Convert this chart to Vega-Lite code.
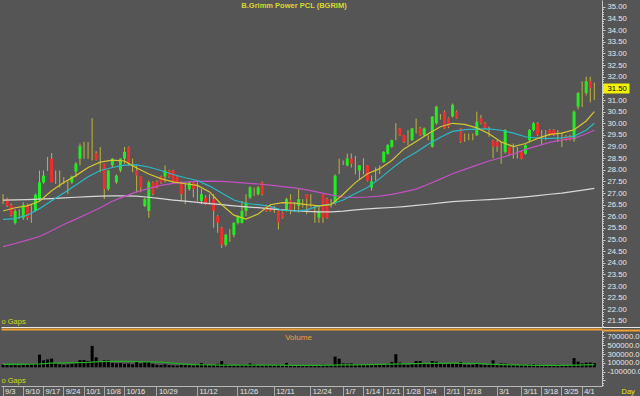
{
"$schema": "https://vega.github.io/schema/vega-lite/v6.json",
"background": "#555555",
"padding": 0,
"bounds": "flush",
"spacing": 3,
"config": {"view": {"stroke": null}, "font": "Liberation Sans", "axis": {"labelFont": "Liberation Sans", "titleFont": "Liberation Sans"}, "title": {"font": "Liberation Sans"}},
"datasets": {
"k": [
{"d":"9/3","o":26.7,"h":26.95,"l":26.52,"c":26.7,"v":60000},
{"d":"9/4","o":26.74,"h":26.8,"l":26.4,"c":26.45,"v":55000},
{"d":"9/5","o":26.48,"h":26.55,"l":26.0,"c":26.05,"v":50000},
{"d":"9/6","o":25.72,"h":26.3,"l":25.65,"c":26.23,"v":60000},
{"d":"9/7","o":26.1,"h":26.3,"l":25.9,"c":26.1,"v":45000},
{"d":"9/10","o":25.94,"h":26.6,"l":25.85,"c":26.48,"v":55000},
{"d":"9/11","o":26.48,"h":26.55,"l":25.85,"c":25.94,"v":60000},
{"d":"9/12","o":26.2,"h":26.52,"l":25.72,"c":26.2,"v":70000},
{"d":"9/13","o":26.23,"h":26.98,"l":26.2,"c":26.93,"v":75000},
{"d":"9/14","o":26.74,"h":27.97,"l":26.66,"c":27.46,"v":290000},
{"d":"9/17","o":27.46,"h":27.97,"l":27.4,"c":27.75,"v":160000},
{"d":"9/18","o":28.2,"h":28.55,"l":27.95,"c":28.2,"v":180000},
{"d":"9/19","o":28.48,"h":28.72,"l":27.46,"c":27.46,"v":200000},
{"d":"9/20","o":27.6,"h":27.97,"l":27.39,"c":27.6,"v":90000},
{"d":"9/21","o":27.55,"h":27.97,"l":27.24,"c":27.55,"v":70000},
{"d":"9/24","o":27.55,"h":27.68,"l":27.39,"c":27.55,"v":60000},
{"d":"9/25","o":27.3,"h":27.54,"l":26.96,"c":27.3,"v":65000},
{"d":"9/26","o":27.46,"h":27.75,"l":27.4,"c":27.71,"v":80000},
{"d":"9/27","o":27.93,"h":28.33,"l":27.68,"c":28.26,"v":90000},
{"d":"9/28","o":28.48,"h":29.13,"l":28.19,"c":29.01,"v":165000},
{"d":"10/1","o":28.9,"h":29.2,"l":28.48,"c":28.9,"v":165000},
{"d":"10/2","o":28.9,"h":29.2,"l":28.48,"c":28.9,"v":145000},
{"d":"10/3","o":28.8,"h":30.22,"l":28.4,"c":28.8,"v":490000},
{"d":"10/4","o":28.72,"h":28.8,"l":28.4,"c":28.43,"v":230000},
{"d":"10/5","o":28.5,"h":28.98,"l":27.9,"c":28.5,"v":145000},
{"d":"10/8","o":28.26,"h":28.26,"l":26.74,"c":27.17,"v":160000},
{"d":"10/9","o":27.17,"h":28.0,"l":27.1,"c":27.97,"v":160000},
{"d":"10/10","o":28.19,"h":28.5,"l":28.1,"c":28.48,"v":100000},
{"d":"10/11","o":27.46,"h":27.8,"l":27.4,"c":27.75,"v":90000},
{"d":"10/12","o":27.97,"h":28.5,"l":27.9,"c":28.48,"v":95000},
{"d":"10/16","o":28.48,"h":28.98,"l":28.26,"c":28.77,"v":80000},
{"d":"10/17","o":28.98,"h":29.0,"l":28.2,"c":28.26,"v":85000},
{"d":"10/18","o":28.1,"h":28.48,"l":27.9,"c":28.1,"v":70000},
{"d":"10/19","o":27.97,"h":28.19,"l":27.03,"c":27.75,"v":130000},
{"d":"10/22","o":27.71,"h":27.71,"l":27.03,"c":27.24,"v":90000},
{"d":"10/24","o":26.45,"h":26.8,"l":26.4,"c":26.74,"v":120000},
{"d":"10/25","o":26.23,"h":27.54,"l":25.94,"c":27.46,"v":120000},
{"d":"10/26","o":27.46,"h":27.5,"l":26.9,"c":26.96,"v":80000},
{"d":"10/29","o":27.49,"h":27.55,"l":27.2,"c":27.24,"v":60000},
{"d":"10/30","o":27.71,"h":27.75,"l":27.4,"c":27.46,"v":55000},
{"d":"10/31","o":27.71,"h":28.19,"l":27.46,"c":27.97,"v":70000},
{"d":"11/1","o":27.97,"h":28.0,"l":27.65,"c":27.71,"v":50000},
{"d":"11/2","o":27.97,"h":28.0,"l":27.4,"c":27.46,"v":45000},
{"d":"11/5","o":27.68,"h":27.72,"l":27.42,"c":27.46,"v":40000},
{"d":"11/6","o":27.46,"h":27.5,"l":26.66,"c":26.96,"v":55000},
{"d":"11/7","o":27.1,"h":27.46,"l":26.52,"c":27.1,"v":50000},
{"d":"11/8","o":27.17,"h":27.5,"l":27.1,"c":27.46,"v":45000},
{"d":"11/9","o":27.46,"h":27.5,"l":26.81,"c":27.17,"v":40000},
{"d":"11/12","o":27.0,"h":27.46,"l":26.66,"c":27.0,"v":55000},
{"d":"11/13","o":26.66,"h":27.17,"l":26.52,"c":26.955,"v":95000},
{"d":"11/14","o":26.81,"h":26.9,"l":26.5,"c":26.52,"v":70000},
{"d":"11/15","o":26.7,"h":26.95,"l":26.52,"c":26.7,"v":50000},
{"d":"11/16","o":26.74,"h":26.95,"l":25.51,"c":26.23,"v":60000},
{"d":"11/19","o":26.01,"h":26.05,"l":25.29,"c":25.72,"v":80000},
{"d":"11/20","o":25.51,"h":25.55,"l":24.64,"c":24.78,"v":145000},
{"d":"11/21","o":24.78,"h":25.25,"l":24.7,"c":25.2,"v":70000},
{"d":"11/22","o":25.2,"h":25.45,"l":24.9,"c":25.2,"v":50000},
{"d":"11/23","o":25.2,"h":25.75,"l":25.1,"c":25.72,"v":45000},
{"d":"11/26","o":25.72,"h":26.05,"l":25.65,"c":26.0,"v":50000},
{"d":"11/27","o":25.72,"h":26.66,"l":25.7,"c":26.23,"v":60000},
{"d":"11/28","o":26.23,"h":26.95,"l":26.0,"c":26.59,"v":55000},
{"d":"11/29","o":26.81,"h":27.3,"l":26.75,"c":27.24,"v":90000},
{"d":"11/30","o":27.0,"h":27.24,"l":26.88,"c":27.0,"v":65000},
{"d":"12/3","o":26.95,"h":27.3,"l":26.9,"c":27.24,"v":50000},
{"d":"12/4","o":27.46,"h":27.5,"l":26.9,"c":26.95,"v":45000},
{"d":"12/6","o":26.45,"h":26.5,"l":26.2,"c":26.23,"v":55000},
{"d":"12/7","o":26.45,"h":26.5,"l":26.2,"c":26.23,"v":50000},
{"d":"12/11","o":26.3,"h":26.45,"l":26.15,"c":26.3,"v":45000},
{"d":"12/12","o":26.23,"h":26.25,"l":25.43,"c":25.72,"v":60000},
{"d":"12/13","o":26.16,"h":26.2,"l":25.9,"c":25.94,"v":50000},
{"d":"12/14","o":26.23,"h":26.8,"l":26.2,"c":26.74,"v":100000},
{"d":"12/17","o":26.69,"h":26.95,"l":26.09,"c":26.23,"v":45000},
{"d":"12/18","o":26.4,"h":26.6,"l":26.2,"c":26.4,"v":40000},
{"d":"12/19","o":26.45,"h":27.17,"l":26.16,"c":26.74,"v":50000},
{"d":"12/20","o":26.55,"h":26.74,"l":26.38,"c":26.55,"v":45000},
{"d":"12/21","o":26.95,"h":26.95,"l":26.09,"c":26.74,"v":55000},
{"d":"12/24","o":26.7,"h":26.95,"l":26.38,"c":26.7,"v":40000},
{"d":"12/25","o":26.0,"h":26.45,"l":25.72,"c":26.0,"v":35000},
{"d":"12/26","o":25.94,"h":26.45,"l":25.72,"c":26.23,"v":50000},
{"d":"12/27","o":26.95,"h":26.95,"l":25.72,"c":25.94,"v":60000},
{"d":"12/28","o":26.74,"h":26.8,"l":25.9,"c":25.94,"v":55000},
{"d":"1/2","o":26.6,"h":26.74,"l":26.38,"c":26.6,"v":50000},
{"d":"1/3","o":26.59,"h":27.8,"l":26.5,"c":27.75,"v":246000},
{"d":"1/4","o":28.2,"h":28.48,"l":27.82,"c":28.2,"v":196000},
{"d":"1/7","o":28.3,"h":28.4,"l":28.2,"c":28.3,"v":90000},
{"d":"1/8","o":28.19,"h":28.7,"l":28.15,"c":28.48,"v":85000},
{"d":"1/9","o":28.48,"h":28.7,"l":28.1,"c":28.26,"v":90000},
{"d":"1/10","o":28.3,"h":28.6,"l":27.8,"c":28.3,"v":60000},
{"d":"1/11","o":27.97,"h":28.2,"l":27.6,"c":28.19,"v":65000},
{"d":"1/14","o":28.1,"h":28.5,"l":27.8,"c":28.1,"v":55000},
{"d":"1/15","o":28.19,"h":28.2,"l":27.5,"c":27.53,"v":60000},
{"d":"1/16","o":27.24,"h":27.75,"l":27.1,"c":27.5,"v":50000},
{"d":"1/17","o":27.8,"h":28.1,"l":27.53,"c":27.8,"v":55000},
{"d":"1/18","o":28.0,"h":28.19,"l":27.82,"c":28.0,"v":60000},
{"d":"1/21","o":28.33,"h":28.8,"l":28.3,"c":28.77,"v":70000},
{"d":"1/22","o":28.69,"h":29.1,"l":28.65,"c":29.06,"v":80000},
{"d":"1/23","o":28.99,"h":29.3,"l":28.95,"c":29.27,"v":123000},
{"d":"1/24","o":29.6,"h":30.0,"l":29.27,"c":29.6,"v":300000},
{"d":"1/25","o":29.78,"h":29.8,"l":29.45,"c":29.49,"v":109000},
{"d":"1/28","o":29.49,"h":29.5,"l":29.15,"c":29.2,"v":70000},
{"d":"1/29","o":29.4,"h":29.7,"l":29.06,"c":29.4,"v":60000},
{"d":"1/30","o":29.27,"h":29.8,"l":29.25,"c":29.78,"v":80000},
{"d":"1/31","o":29.9,"h":30.2,"l":29.56,"c":29.9,"v":145000},
{"d":"2/1","o":29.78,"h":29.85,"l":29.45,"c":29.49,"v":145000},
{"d":"2/4","o":29.49,"h":29.82,"l":29.45,"c":29.78,"v":90000},
{"d":"2/5","o":29.4,"h":29.49,"l":29.27,"c":29.4,"v":70000},
{"d":"2/6","o":28.99,"h":30.3,"l":28.95,"c":30.29,"v":145000},
{"d":"2/7","o":30.0,"h":30.75,"l":29.95,"c":30.72,"v":130000},
{"d":"2/8","o":30.3,"h":30.4,"l":30.15,"c":30.3,"v":80000},
{"d":"2/11","o":30.5,"h":30.55,"l":29.75,"c":29.78,"v":70000},
{"d":"2/12","o":30.22,"h":30.25,"l":29.8,"c":29.85,"v":75000},
{"d":"2/13","o":30.29,"h":30.85,"l":30.25,"c":30.8,"v":90000},
{"d":"2/14","o":30.5,"h":30.55,"l":30.2,"c":30.22,"v":80000},
{"d":"2/15","o":29.78,"h":29.8,"l":29.15,"c":29.2,"v":123000},
{"d":"2/18","o":29.4,"h":29.56,"l":29.2,"c":29.4,"v":60000},
{"d":"2/20","o":29.4,"h":29.56,"l":29.27,"c":29.4,"v":55000},
{"d":"2/21","o":29.4,"h":29.56,"l":29.27,"c":29.4,"v":60000},
{"d":"2/22","o":29.49,"h":30.5,"l":29.45,"c":30.07,"v":100000},
{"d":"2/25","o":30.22,"h":30.36,"l":29.95,"c":30.0,"v":65000},
{"d":"2/26","o":30.0,"h":30.05,"l":29.75,"c":29.78,"v":55000},
{"d":"2/27","o":29.6,"h":29.85,"l":29.42,"c":29.6,"v":60000},
{"d":"2/28","o":29.27,"h":29.3,"l":28.5,"c":28.99,"v":160000},
{"d":"3/1","o":29.2,"h":29.27,"l":28.77,"c":29.0,"v":60000},
{"d":"3/4","o":28.7,"h":29.2,"l":28.26,"c":28.7,"v":90000},
{"d":"3/5","o":28.77,"h":29.75,"l":28.7,"c":29.71,"v":85000},
{"d":"3/6","o":28.98,"h":29.0,"l":28.65,"c":28.69,"v":70000},
{"d":"3/7","o":28.7,"h":29.13,"l":28.48,"c":28.7,"v":55000},
{"d":"3/8","o":28.7,"h":28.98,"l":28.48,"c":28.7,"v":50000},
{"d":"3/11","o":28.77,"h":28.8,"l":28.45,"c":28.48,"v":60000},
{"d":"3/12","o":28.69,"h":29.1,"l":28.65,"c":29.06,"v":55000},
{"d":"3/13","o":29.27,"h":29.75,"l":29.2,"c":29.71,"v":65000},
{"d":"3/14","o":29.71,"h":30.05,"l":29.65,"c":30.0,"v":70000},
{"d":"3/15","o":30.0,"h":30.05,"l":29.45,"c":29.49,"v":60000},
{"d":"3/18","o":29.5,"h":29.71,"l":29.06,"c":29.5,"v":55000},
{"d":"3/19","o":29.6,"h":29.71,"l":29.27,"c":29.6,"v":50000},
{"d":"3/20","o":29.71,"h":29.75,"l":29.45,"c":29.49,"v":45000},
{"d":"3/21","o":29.71,"h":29.75,"l":29.45,"c":29.49,"v":55000},
{"d":"3/22","o":29.5,"h":29.71,"l":29.2,"c":29.5,"v":60000},
{"d":"3/25","o":29.4,"h":29.6,"l":28.98,"c":29.4,"v":50000},
{"d":"3/26","o":29.45,"h":29.5,"l":29.25,"c":29.27,"v":45000},
{"d":"3/27","o":29.45,"h":29.5,"l":29.25,"c":29.27,"v":50000},
{"d":"3/28","o":29.3,"h":30.55,"l":29.2,"c":30.5,"v":210000},
{"d":"3/29","o":30.72,"h":31.35,"l":30.6,"c":31.3,"v":130000},
{"d":"4/1","o":31.3,"h":31.8,"l":30.7,"c":31.3,"v":90000},
{"d":"4/2","o":31.3,"h":32.0,"l":31.2,"c":31.81,"v":109000},
{"d":"4/3","o":31.81,"h":32.0,"l":30.9,"c":31.52,"v":109000},
{"d":"4/4","o":31.5,"h":31.75,"l":31.0,"c":31.5,"v":100000}
],
"ma": [
{"d":"9/3","y":26.23,"cy":25.87,"m":24.7,"w":26.7,"vm":70000},
{"d":"9/6","y":26.37,"cy":25.9,"m":24.83,"w":26.71,"vm":70000},
{"d":"9/11","y":26.45,"cy":26.05,"m":24.98,"w":26.72,"vm":72000},
{"d":"9/14","y":26.65,"cy":26.33,"m":25.13,"w":26.74,"vm":80000},
{"d":"9/19","y":27.1,"cy":26.67,"m":25.38,"w":26.76,"vm":95000},
{"d":"9/24","y":27.45,"cy":27.0,"m":25.65,"w":26.79,"vm":100000},
{"d":"9/27","y":27.75,"cy":27.35,"m":25.88,"w":26.82,"vm":105000},
{"d":"10/2","y":28.1,"cy":27.7,"m":26.12,"w":26.85,"vm":112000},
{"d":"10/5","y":28.33,"cy":27.97,"m":26.37,"w":26.87,"vm":128000},
{"d":"10/10","y":28.42,"cy":28.1,"m":26.65,"w":26.88,"vm":136000},
{"d":"10/16","y":28.38,"cy":28.2,"m":26.86,"w":26.88,"vm":135000},
{"d":"10/19","y":28.08,"cy":28.21,"m":27.05,"w":26.87,"vm":128000},
{"d":"10/25","y":27.82,"cy":28.12,"m":27.2,"w":26.82,"vm":125000},
{"d":"10/30","y":27.62,"cy":27.97,"m":27.33,"w":26.76,"vm":120000},
{"d":"11/2","y":27.48,"cy":27.8,"m":27.42,"w":26.7,"vm":95000},
{"d":"11/7","y":27.4,"cy":27.66,"m":27.47,"w":26.65,"vm":75000},
{"d":"11/12","y":27.33,"cy":27.54,"m":27.5,"w":26.6,"vm":60000},
{"d":"11/15","y":27.05,"cy":27.3,"m":27.51,"w":26.55,"vm":55000},
{"d":"11/20","y":26.5,"cy":27.0,"m":27.5,"w":26.5,"vm":52000},
{"d":"11/23","y":26.05,"cy":26.7,"m":27.47,"w":26.45,"vm":50000},
{"d":"11/28","y":25.88,"cy":26.55,"m":27.43,"w":26.41,"vm":50000},
{"d":"12/3","y":26.1,"cy":26.5,"m":27.39,"w":26.37,"vm":50000},
{"d":"12/7","y":26.5,"cy":26.43,"m":27.34,"w":26.32,"vm":50000},
{"d":"12/13","y":26.59,"cy":26.26,"m":27.28,"w":26.28,"vm":48000},
{"d":"12/18","y":26.57,"cy":26.22,"m":27.22,"w":26.24,"vm":46000},
{"d":"12/21","y":26.5,"cy":26.28,"m":27.14,"w":26.21,"vm":45000},
{"d":"12/26","y":26.45,"cy":26.45,"m":27.03,"w":26.19,"vm":45000},
{"d":"1/2","y":26.5,"cy":26.53,"m":26.92,"w":26.19,"vm":48000},
{"d":"1/7","y":26.95,"cy":26.7,"m":26.83,"w":26.22,"vm":55000},
{"d":"1/10","y":27.45,"cy":26.98,"m":26.81,"w":26.28,"vm":58000},
{"d":"1/15","y":27.83,"cy":27.24,"m":26.83,"w":26.32,"vm":60000},
{"d":"1/18","y":28.05,"cy":27.62,"m":26.87,"w":26.35,"vm":65000},
{"d":"1/23","y":28.4,"cy":28.05,"m":26.94,"w":26.38,"vm":72000},
{"d":"1/28","y":28.9,"cy":28.45,"m":27.05,"w":26.42,"vm":80000},
{"d":"1/31","y":29.22,"cy":28.75,"m":27.17,"w":26.47,"vm":85000},
{"d":"2/5","y":29.55,"cy":29.1,"m":27.38,"w":26.52,"vm":90000},
{"d":"2/8","y":29.85,"cy":29.4,"m":27.6,"w":26.58,"vm":92000},
{"d":"2/13","y":30.0,"cy":29.65,"m":27.83,"w":26.63,"vm":94000},
{"d":"2/18","y":29.95,"cy":29.73,"m":28.02,"w":26.66,"vm":92000},
{"d":"2/22","y":29.8,"cy":29.75,"m":28.2,"w":26.69,"vm":88000},
{"d":"2/27","y":29.55,"cy":29.76,"m":28.38,"w":26.72,"vm":72000},
{"d":"3/4","y":29.2,"cy":29.7,"m":28.52,"w":26.75,"vm":62000},
{"d":"3/7","y":29.0,"cy":29.58,"m":28.68,"w":26.79,"vm":55000},
{"d":"3/12","y":29.13,"cy":29.42,"m":28.88,"w":26.84,"vm":50000},
{"d":"3/15","y":29.35,"cy":29.36,"m":29.03,"w":26.89,"vm":46000},
{"d":"3/20","y":29.52,"cy":29.35,"m":29.18,"w":26.95,"vm":45000},
{"d":"3/25","y":29.58,"cy":29.37,"m":29.28,"w":27.0,"vm":45000},
{"d":"3/28","y":29.72,"cy":29.45,"m":29.35,"w":27.07,"vm":50000},
{"d":"4/2","y":30.1,"cy":29.7,"m":29.55,"w":27.15,"vm":58000},
{"d":"4/4","y":30.5,"cy":30.0,"m":29.7,"w":27.2,"vm":60000}
]
},
"vconcat": [
{
"width": 601,
"height": 327,
"title": {"text": "B.Grimm Power PCL (BGRIM)", "color": "#D8D830", "fontSize": 7.5, "fontWeight": "bold", "anchor": "middle", "frame": "group", "offset": -15, "baseline": "alphabetic", "dx": -7.5},
"resolve": {"axis": {"y": "independent"}},
"encoding": {
"x": {"field": "d", "type": "ordinal", "sort": null,
"scale": {"type": "band", "paddingInner": 0, "paddingOuter": 0.7, "align": 0, "domain": ["9/3","9/4","9/5","9/6","9/7","9/10","9/11","9/12","9/13","9/14","9/17","9/18","9/19","9/20","9/21","9/24","9/25","9/26","9/27","9/28","10/1","10/2","10/3","10/4","10/5","10/8","10/9","10/10","10/11","10/12","10/16","10/17","10/18","10/19","10/22","10/24","10/25","10/26","10/29","10/30","10/31","11/1","11/2","11/5","11/6","11/7","11/8","11/9","11/12","11/13","11/14","11/15","11/16","11/19","11/20","11/21","11/22","11/23","11/26","11/27","11/28","11/29","11/30","12/3","12/4","12/6","12/7","12/11","12/12","12/13","12/14","12/17","12/18","12/19","12/20","12/21","12/24","12/25","12/26","12/27","12/28","1/2","1/3","1/4","1/7","1/8","1/9","1/10","1/11","1/14","1/15","1/16","1/17","1/18","1/21","1/22","1/23","1/24","1/25","1/28","1/29","1/30","1/31","2/1","2/4","2/5","2/6","2/7","2/8","2/11","2/12","2/13","2/14","2/15","2/18","2/20","2/21","2/22","2/25","2/26","2/27","2/28","3/1","3/4","3/5","3/6","3/7","3/8","3/11","3/12","3/13","3/14","3/15","3/18","3/19","3/20","3/21","3/22","3/25","3/26","3/27","3/28","3/29","4/1","4/2","4/3","4/4"]},
"axis": {"orient": "bottom", "ticks": false, "labels": false, "grid": false, "domainColor": "#E6E6E6", "domainWidth": 1, "title": "o Gaps", "titleX": 0, "titleY": -4, "titleAlign": "left", "titleAnchor": "start", "titleBaseline": "alphabetic", "titleColor": "#D8D820", "titleFontSize": 7.5, "titleFontWeight": "normal"}}
},
"layer": [
{"data": {"name": "k"}, "mark": {"type": "rule", "color": "#C4B43C", "strokeWidth": 1},
"encoding": {
"y": {"field": "l", "type": "quantitative", "scale": {"domain": [21.242, 35.3], "nice": false, "zero": false},
"axis": {"orient": "right", "grid": false, "title": null,
"values": [21.242,21.3,21.4,21.5,21.6,21.7,21.8,21.9,22,22.1,22.2,22.3,22.4,22.5,22.6,22.7,22.8,22.9,23,23.1,23.2,23.3,23.4,23.5,23.6,23.7,23.8,23.9,24,24.1,24.2,24.3,24.4,24.5,24.6,24.7,24.8,24.9,25,25.1,25.2,25.3,25.4,25.5,25.6,25.7,25.8,25.9,26,26.1,26.2,26.3,26.4,26.5,26.6,26.7,26.8,26.9,27,27.1,27.2,27.3,27.4,27.5,27.6,27.7,27.8,27.9,28,28.1,28.2,28.3,28.4,28.5,28.6,28.7,28.8,28.9,29,29.1,29.2,29.3,29.4,29.5,29.6,29.7,29.8,29.9,30,30.1,30.2,30.3,30.4,30.5,30.6,30.7,30.8,30.9,31,31.1,31.2,31.3,31.4,31.5,31.6,31.7,31.8,31.9,32,32.1,32.2,32.3,32.4,32.5,32.6,32.7,32.8,32.9,33,33.1,33.2,33.3,33.4,33.5,33.6,33.7,33.8,33.9,34,34.1,34.2,34.3,34.4,34.5,34.6,34.7,34.8,34.9,35],
"labelExpr": "datum.value < 21.45 ? '' : (abs(datum.value * 2 - round(datum.value * 2)) < 0.01 ? format(datum.value, '.2f') : '')",
"domainColor": "#C8C8C8",
"tickColor": {"condition": [{"test": "datum.value == 31.5", "value": "#F2F200"}, {"test": "datum.value < 21.25", "value": "#E6E6E6"}], "value": "#C8C8C8"},
"tickSize": {"condition": [{"test": "datum.value == 31.5", "value": 27}, {"test": "datum.value < 21.25", "value": 40}, {"test": "abs(datum.value * 2 - round(datum.value * 2)) < 0.01", "value": 3}], "value": 1.5},
"tickWidth": {"condition": {"test": "datum.value == 31.5", "value": 10}, "value": 1},
"labelColor": {"condition": {"test": "datum.value == 31.5", "value": "#000000"}, "value": "#E8E8E8"},
"labelPadding": {"condition": {"test": "datum.value == 31.5", "value": -22}, "value": 2},
"labelFontSize": 7.7, "labelBaseline": "middle", "labelAlign": "left", "labelFlush": false, "labelOverlap": false}},
"y2": {"field": "h"}}},
{"data": {"name": "k"}, "mark": {"type": "bar", "size": 3},
"encoding": {
"y": {"field": "o", "type": "quantitative", "scale": {"domain": [21.242, 35.3], "nice": false, "zero": false}, "axis": null},
"y2": {"field": "c"},
"color": {"condition": {"test": "datum.c > datum.o", "value": "#22EC22"}, "value": "#F42C2C"}}},
{"data": {"name": "ma"}, "mark": {"type": "line", "color": "#D8D8D8", "strokeWidth": 1.2},
"encoding": {"y": {"field": "w", "type": "quantitative", "scale": {"domain": [21.242, 35.3], "nice": false, "zero": false}, "axis": null}}},
{"data": {"name": "ma"}, "mark": {"type": "line", "color": "#C450C4", "strokeWidth": 1.2},
"encoding": {"y": {"field": "m", "type": "quantitative", "scale": {"domain": [21.242, 35.3], "nice": false, "zero": false}, "axis": null}}},
{"data": {"name": "ma"}, "mark": {"type": "line", "color": "#2CB8C8", "strokeWidth": 1.2},
"encoding": {"y": {"field": "cy", "type": "quantitative", "scale": {"domain": [21.242, 35.3], "nice": false, "zero": false}, "axis": null}}},
{"data": {"name": "ma"}, "mark": {"type": "line", "color": "#D4C630", "strokeWidth": 1.2},
"encoding": {"y": {"field": "y", "type": "quantitative", "scale": {"domain": [21.242, 35.3], "nice": false, "zero": false}, "axis": null}}}
]
},
{
"width": 601,
"height": 56,
"title": {"text": "Volume", "color": "#E8A040", "fontSize": 8, "fontWeight": "normal", "anchor": "middle", "frame": "group", "offset": -21.5, "baseline": "alphabetic", "dx": -3},
"resolve": {"axis": {"x": "independent", "y": "independent"}},
"layer": [
{"data": {"name": "k"}, "mark": {"type": "bar", "size": 3, "color": "#000000"},
"encoding": {
"x": {"field": "d", "type": "ordinal", "sort": null,
"scale": {"type": "band", "paddingInner": 0, "paddingOuter": 0.7, "align": 0, "domain": ["9/3","9/4","9/5","9/6","9/7","9/10","9/11","9/12","9/13","9/14","9/17","9/18","9/19","9/20","9/21","9/24","9/25","9/26","9/27","9/28","10/1","10/2","10/3","10/4","10/5","10/8","10/9","10/10","10/11","10/12","10/16","10/17","10/18","10/19","10/22","10/24","10/25","10/26","10/29","10/30","10/31","11/1","11/2","11/5","11/6","11/7","11/8","11/9","11/12","11/13","11/14","11/15","11/16","11/19","11/20","11/21","11/22","11/23","11/26","11/27","11/28","11/29","11/30","12/3","12/4","12/6","12/7","12/11","12/12","12/13","12/14","12/17","12/18","12/19","12/20","12/21","12/24","12/25","12/26","12/27","12/28","1/2","1/3","1/4","1/7","1/8","1/9","1/10","1/11","1/14","1/15","1/16","1/17","1/18","1/21","1/22","1/23","1/24","1/25","1/28","1/29","1/30","1/31","2/1","2/4","2/5","2/6","2/7","2/8","2/11","2/12","2/13","2/14","2/15","2/18","2/20","2/21","2/22","2/25","2/26","2/27","2/28","3/1","3/4","3/5","3/6","3/7","3/8","3/11","3/12","3/13","3/14","3/15","3/18","3/19","3/20","3/21","3/22","3/25","3/26","3/27","3/28","3/29","4/1","4/2","4/3","4/4"]},
"axis": {"orient": "bottom", "grid": false,
"values": ["9/3","9/10","9/17","9/24","10/1","10/8","10/16","10/29","11/12","11/26","12/11","12/24","1/7","1/14","1/21","1/28","2/4","2/11","2/18","3/1","3/11","3/18","3/25","4/1"],
"bandPosition": 0.5, "tickSize": 10, "tickColor": "#A8A8A8", "domainColor": "#B8B8B8",
"labelAlign": "left", "labelBaseline": "middle", "labelOffset": 2, "labelPadding": -5, "labelAngle": 0,
"labelColor": "#E6E6E6", "labelFontSize": 7.5, "labelFlush": false, "labelOverlap": false,
"title": "o Gaps", "titleX": 0, "titleY": -4, "titleAlign": "left", "titleAnchor": "start", "titleBaseline": "alphabetic", "titleColor": "#D8D820", "titleFontSize": 7.5, "titleFontWeight": "normal"}},
"y": {"field": "v", "type": "quantitative", "scale": {"domain": [-427000, 853000], "nice": false, "zero": false},
"axis": {"orient": "right", "grid": false,
"values": [853000, 800000, 750000, 700000, 650000, 600000, 550000, 500000, 450000, 400000, 350000, 300000, 250000, 200000, 150000, 100000, 50000, 0, -50000, -100000, -150000, -200000, -250000, -300000, -350000, -400000],
"labelExpr": "(datum.value > 750000 || datum.value < -150000 || (datum.value + 100000) % 200000 != 0) ? '' : (datum.value < 0 ? '-' + format(-datum.value, '.1f') : format(datum.value, '.1f'))",
"domainColor": "#C8C8C8",
"tickColor": {"condition": {"test": "datum.value > 850000", "value": "#F0A030"}, "value": "#C8C8C8"},
"tickSize": {"condition": [{"test": "datum.value > 850000", "value": 40}, {"test": "(datum.value + 100000) % 200000 == 0", "value": 3}], "value": 1.5},
"tickWidth": {"condition": {"test": "datum.value > 850000", "value": 2}, "value": 1},
"labelColor": "#E8E8E8", "labelFontSize": 7.7, "labelPadding": 2, "labelBaseline": "middle", "labelAlign": "left", "labelFlush": false, "labelOverlap": false,
"title": "Day", "titleX": 19, "titleY": 61, "titleAngle": 0, "titleAlign": "left", "titleBaseline": "middle", "titleColor": "#E6E600", "titleFontSize": 7.5, "titleFontWeight": "normal"}},
"y2": {"datum": 0}}},
{"data": {"name": "ma"}, "mark": {"type": "line", "color": "#24B024", "strokeWidth": 1.3},
"encoding": {
"x": {"field": "d", "type": "ordinal", "sort": null,
"scale": {"type": "band", "paddingInner": 0, "paddingOuter": 0.7, "align": 0, "domain": ["9/3","9/4","9/5","9/6","9/7","9/10","9/11","9/12","9/13","9/14","9/17","9/18","9/19","9/20","9/21","9/24","9/25","9/26","9/27","9/28","10/1","10/2","10/3","10/4","10/5","10/8","10/9","10/10","10/11","10/12","10/16","10/17","10/18","10/19","10/22","10/24","10/25","10/26","10/29","10/30","10/31","11/1","11/2","11/5","11/6","11/7","11/8","11/9","11/12","11/13","11/14","11/15","11/16","11/19","11/20","11/21","11/22","11/23","11/26","11/27","11/28","11/29","11/30","12/3","12/4","12/6","12/7","12/11","12/12","12/13","12/14","12/17","12/18","12/19","12/20","12/21","12/24","12/25","12/26","12/27","12/28","1/2","1/3","1/4","1/7","1/8","1/9","1/10","1/11","1/14","1/15","1/16","1/17","1/18","1/21","1/22","1/23","1/24","1/25","1/28","1/29","1/30","1/31","2/1","2/4","2/5","2/6","2/7","2/8","2/11","2/12","2/13","2/14","2/15","2/18","2/20","2/21","2/22","2/25","2/26","2/27","2/28","3/1","3/4","3/5","3/6","3/7","3/8","3/11","3/12","3/13","3/14","3/15","3/18","3/19","3/20","3/21","3/22","3/25","3/26","3/27","3/28","3/29","4/1","4/2","4/3","4/4"]},
"axis": {"orient": "top", "ticks": false, "labels": false, "grid": false, "domainColor": "#F0A030", "domainWidth": 2, "offset": 1, "title": null}},
"y": {"field": "vm", "type": "quantitative", "scale": {"domain": [-427000, 853000], "nice": false, "zero": false}, "axis": null}}}
]
}
]
}
